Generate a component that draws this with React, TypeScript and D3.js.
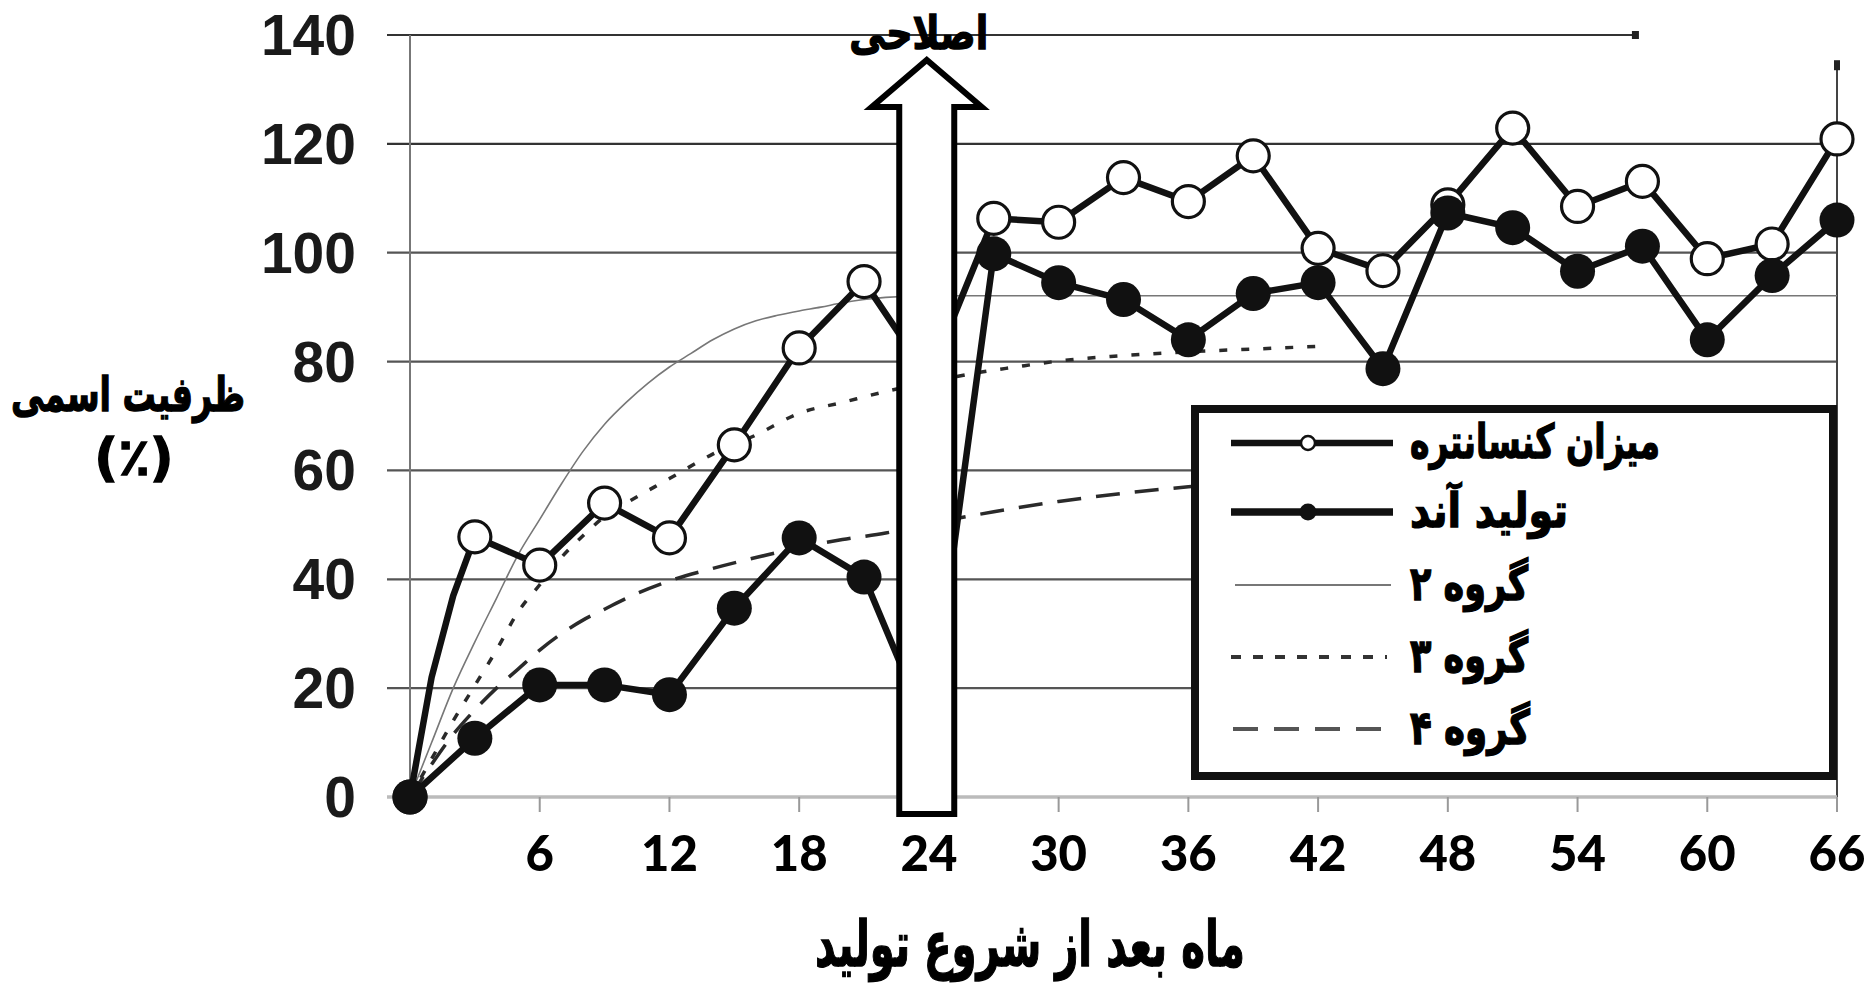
import React from "react";
import * as d3 from "d3";

// ---------- data ----------
const yTicks = [0, 20, 40, 60, 80, 100, 120, 140];
const xTicks = [6, 12, 18, 24, 30, 36, 42, 48, 54, 60, 66];

const markerMonths = [0, 3, 6, 9, 12, 15, 18, 21, 24, 27, 30, 33, 36, 39, 42, 45, 48, 51, 54, 57, 60, 63, 66];
const concentrate = [0, 47.8, 42.6, 54, 47.6, 64.7, 82.5, 94.7, 77, 106.3, 105.6, 113.8, 109.4, 117.8, 100.8, 96.7, 108.8, 122.9, 108.5, 113.1, 98.9, 101.6, 120.9];
const anode = [0, 10.8, 20.6, 20.6, 18.8, 34.7, 47.6, 40.4, 12, 99.8, 94.5, 91.4, 84, 92.5, 94.5, 78.7, 107.3, 104.6, 96.6, 101.2, 84, 95.8, 106];
// bowed lead-in of the concentrate line (no markers)
const concLeadMonths = [1, 2];
const concLeadValues = [22, 37];

const group2Months = [0, 1, 2, 3, 4, 5, 6, 7, 8, 9, 10, 11, 12, 13, 14, 15, 16, 17, 18, 19, 20, 21, 22, 24, 30, 36, 42, 48, 54, 60, 66];
const group2Values = [0, 10, 20, 28.5, 36.5, 44.5, 51, 57.5, 63.5, 68.5, 72.5, 76, 79, 81.5, 84, 86, 87.5, 88.5, 89.3, 90, 90.8, 91.4, 91.8, 92.1, 92.1, 92.1, 92.1, 92.1, 92.1, 92.1, 92.1];

const group3Months = [0, 1, 2, 3, 4, 5, 6, 7, 8, 9, 10, 12, 14, 16, 18, 20, 22, 24, 26, 28, 30, 33, 36, 39, 42];
const group3Values = [0, 7, 14, 20.5, 27, 34, 39, 44, 48, 51.5, 54, 58.5, 63, 66.5, 70.5, 72.5, 74.5, 76.2, 77.8, 79, 80.1, 81.1, 81.8, 82.3, 82.8];

const group4Months = [0, 1, 2, 3, 4, 5, 6, 7, 8, 9, 10, 12, 14, 16, 18, 20, 22, 24, 27, 30, 33, 36, 39, 42];
const group4Values = [0, 6, 11.5, 16, 20, 23.5, 27, 30, 32.5, 34.5, 36.5, 39.7, 42, 44, 45.8, 47.3, 48.5, 50.2, 52.4, 54.3, 55.8, 57, 58, 59];

const legendLabels = ["میزان کنسانتره", "تولید آند", "گروه ۲", "گروه ۳", "گروه ۴"];
const yTitle = ["ظرفیت اسمی", "(٪)"];
const xTitle = "ماه بعد از شروع تولید";
const arrowLabel = "اصلاحی";
const arrowMonth = 23.9;
const topGridEndMonth = 56.7;

// ---------- layout ----------
const W = 1872;
const H = 987;
const x = d3.scaleLinear().domain([0, 66]).range([410, 1837]);
const y = d3.scaleLinear().domain([0, 140]).range([797, 35]);

const persian = "'DejaVu Sans', sans-serif";
const heavy = { stroke: "#000", strokeWidth: 1.4, paintOrder: "stroke" } as const;

export default function App() {
  const line = d3
    .line<[number, number]>()
    .x((d) => x(d[0]))
    .y((d) => y(d[1]));
  const smooth = d3
    .line<[number, number]>()
    .x((d) => x(d[0]))
    .y((d) => y(d[1]))
    .curve(d3.curveMonotoneX);

  const concPts: [number, number][] = markerMonths.map((m, i) => [m, concentrate[i]]);
  const concLine: [number, number][] = [
    concPts[0],
    ...concLeadMonths.map((m, i) => [m, concLeadValues[i]] as [number, number]),
    ...concPts.slice(1),
  ];
  const anodePts: [number, number][] = markerMonths.map((m, i) => [m, anode[i]]);
  const g2: [number, number][] = group2Months.map((m, i) => [m, group2Values[i]]);
  const g3: [number, number][] = group3Months.map((m, i) => [m, group3Values[i]]);
  const g4: [number, number][] = group4Months.map((m, i) => [m, group4Values[i]]);

  // arrow geometry
  const ax = x(arrowMonth);
  const shaftHalf = 27.5;
  const headHalf = 55;
  const baseY = y(0) + 17;
  const headBaseY = 107;
  const tipY = 60;
  const arrowPath = `M${ax - shaftHalf},${baseY} L${ax - shaftHalf},${headBaseY} L${ax - headHalf},${headBaseY} L${ax},${tipY} L${ax + headHalf},${headBaseY} L${ax + shaftHalf},${headBaseY} L${ax + shaftHalf},${baseY} Z`;

  // legend
  const lgX = 1195;
  const lgY = 409;
  const lgW = 638;
  const lgH = 367;
  const rowY = [443, 512, 585, 657, 729];
  const textX = 1410;
  const textW = [250, 158, 118, 118, 120];

  return (
    <svg
      width={W}
      height={H}
      viewBox={`0 0 ${W} ${H}`}
      style={{ position: "absolute", left: 0, top: 0, background: "#fff" }}
    >
      <rect x={0} y={0} width={W} height={H} fill="#fff" />

      {/* grid */}
      {yTicks.map((t) =>
        t === 0 ? null : (
          <line
            key={"g" + t}
            x1={387}
            x2={t === 140 ? x(topGridEndMonth) : x(66)}
            y1={y(t)}
            y2={y(t)}
            stroke={t >= 120 ? "#333" : "#555"}
            strokeWidth={2.2}
          />
        )
      )}
      <rect x={x(topGridEndMonth) - 4} y={y(140) - 4} width={7} height={8} fill="#222" />
      {/* right border */}
      <line x1={x(66)} x2={x(66)} y1={y(135)} y2={y(0)} stroke="#444" strokeWidth={2} />
      <rect x={x(66) - 3} y={y(135) - 2} width={6} height={10} fill="#222" />
      {/* y axis */}
      <line x1={x(0)} x2={x(0)} y1={y(140)} y2={y(0) + 12} stroke="#777" strokeWidth={2} />
      {/* x axis */}
      <line x1={387} x2={x(66)} y1={y(0)} y2={y(0)} stroke="#bbb" strokeWidth={3.5} />
      {xTicks.map((t) => (
        <line key={"xt" + t} x1={x(t)} x2={x(t)} y1={y(0)} y2={y(0) + 15} stroke="#999" strokeWidth={2} />
      ))}

      {/* y tick labels */}
      {yTicks.map((t) => (
        <text
          key={"yl" + t}
          x={356}
          y={y(t) + 20}
          textAnchor="end"
          fontFamily="'Liberation Sans', Arial, sans-serif"
          fontWeight="bold"
          fontSize={57}
          fill="#1a1a1a"
        >
          {t}
        </text>
      ))}
      {/* x tick labels */}
      {xTicks.map((t) => (
        <text
          key={"xl" + t}
          x={x(t)}
          y={871}
          textAnchor="middle"
          fontFamily="Lato, 'Open Sans', sans-serif"
          fontWeight={900}
          fontSize={49}
          fill="#000"
        >
          {t}
        </text>
      ))}

      {/* trend groups */}
      <path d={smooth(g2) || ""} fill="none" stroke="#777" strokeWidth={1.6} />
      <path d={smooth(g3) || ""} fill="none" stroke="#2a2a2a" strokeWidth={3.5} strokeDasharray="8 14" />
      <path d={smooth(g4) || ""} fill="none" stroke="#2a2a2a" strokeWidth={3.5} strokeDasharray="24 15" />

      {/* concentrate series */}
      <path d={line(concLine) || ""} fill="none" stroke="#111" strokeWidth={6.5} strokeLinejoin="round" />
      {concPts.map((p, i) => (
        <circle key={"oc" + i} cx={x(p[0])} cy={y(p[1])} r={16} fill="#fff" stroke="#111" strokeWidth={3.2} />
      ))}

      {/* anode series */}
      <path d={line(anodePts) || ""} fill="none" stroke="#111" strokeWidth={6.5} strokeLinejoin="round" />
      {anodePts.map((p, i) => (
        <circle key={"fc" + i} cx={x(p[0])} cy={y(p[1])} r={17.5} fill="#111" />
      ))}

      {/* arrow */}
      <path d={arrowPath} fill="#fff" stroke="#000" strokeWidth={6} strokeLinejoin="miter" />
      <text
        x={ax - 8}
        y={49}
        textAnchor="middle"
        fontFamily={persian}
        fontWeight="bold"
        fontSize={46}
        textLength={139}
        lengthAdjust="spacingAndGlyphs"
        fill="#000"
        {...heavy}
      >
        {arrowLabel}
      </text>

      {/* legend */}
      <rect x={lgX} y={lgY} width={lgW} height={lgH} fill="#fff" stroke="#111" strokeWidth={8} />
      {/* row 1 */}
      <line x1={1231} x2={1393} y1={rowY[0]} y2={rowY[0]} stroke="#111" strokeWidth={6.5} />
      <circle cx={1308} cy={rowY[0]} r={7} fill="#fff" stroke="#111" strokeWidth={2.5} />
      {/* row 2 */}
      <line x1={1231} x2={1393} y1={rowY[1]} y2={rowY[1]} stroke="#111" strokeWidth={7.5} />
      <circle cx={1308} cy={rowY[1]} r={8.5} fill="#111" />
      {/* row 3-5 */}
      <line x1={1235} x2={1391} y1={rowY[2]} y2={rowY[2]} stroke="#777" strokeWidth={2} />
      <line x1={1231} x2={1387} y1={rowY[3]} y2={rowY[3]} stroke="#333" strokeWidth={4} strokeDasharray="10 12" />
      <line x1={1233} x2={1393} y1={rowY[4]} y2={rowY[4]} stroke="#555" strokeWidth={4} strokeDasharray="25 16" />
      {legendLabels.map((lab, i) => (
        <text
          key={"lg" + i}
          x={textX}
          y={rowY[i] + 15}
          fontFamily={persian}
          fontWeight="bold"
          fontSize={47}
          textLength={textW[i]}
          lengthAdjust="spacingAndGlyphs"
          fill="#000"
          {...heavy}
        >
          {lab}
        </text>
      ))}

      {/* axis titles */}
      <text
        x={128}
        y={411}
        textAnchor="middle"
        fontFamily={persian}
        fontWeight="bold"
        fontSize={48}
        textLength={234}
        lengthAdjust="spacingAndGlyphs"
        fill="#000"
        {...heavy}
      >
        {yTitle[0]}
      </text>
      <text
        x={134}
        y={475}
        textAnchor="middle"
        fontFamily={persian}
        fontWeight="bold"
        fontSize={52}
        fill="#000"
        {...heavy}
      >
        {yTitle[1]}
      </text>
      <text
        x={1030}
        y={966}
        textAnchor="middle"
        fontFamily={persian}
        fontWeight="bold"
        fontSize={63}
        textLength={430}
        lengthAdjust="spacingAndGlyphs"
        fill="#000"
        {...heavy}
      >
        {xTitle}
      </text>
    </svg>
  );
}
